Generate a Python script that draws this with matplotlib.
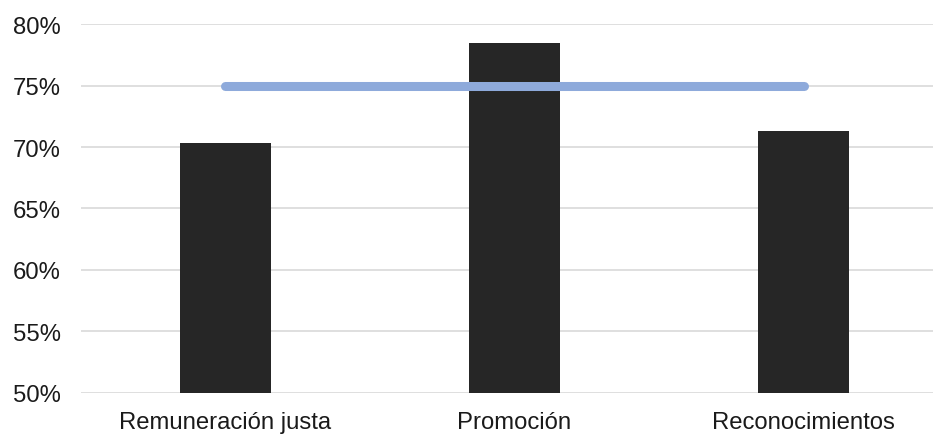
import numpy as np
import matplotlib
matplotlib.use("Agg")
import matplotlib.pyplot as plt
from matplotlib.ticker import FuncFormatter

categorias = ["Remuneración justa", "Promoción", "Reconocimientos"]
valores = [70.3, 78.45, 71.3]
meta = [75, 75, 75]
yticks = [50, 55, 60, 65, 70, 75, 80]

plt.rcParams["font.family"] = ["Liberation Sans", "DejaVu Sans"]

fig = plt.figure(figsize=(9.33, 4.35), dpi=100)
ax = fig.add_axes([0.0868, 0.0943, 0.9132, 0.8482])

x = np.arange(len(categorias))
ax.bar(x, valores, width=0.315, color="#262626", zorder=2)
ax.plot(x, meta, color="#8EAADB", lw=6.5, solid_capstyle="round", zorder=3)

ax.set_ylim(50, 80)
ax.set_xlim(-0.5, 2.448)
ax.set_yticks(yticks)
ax.yaxis.set_major_formatter(FuncFormatter(lambda v, p: f"{v:.0f}%"))
ax.set_xticks(x)
ax.set_xticklabels(categorias)
ax.tick_params(axis="both", length=0, labelsize=17.2, colors="#1a1a1a")
ax.tick_params(axis="y", pad=14.5)
ax.tick_params(axis="x", pad=13)
ax.grid(axis="y", color="#d9d9d9", lw=1.2, zorder=0)
for s in ax.spines.values():
    s.set_visible(False)

fig.savefig("out.png", dpi=100)
